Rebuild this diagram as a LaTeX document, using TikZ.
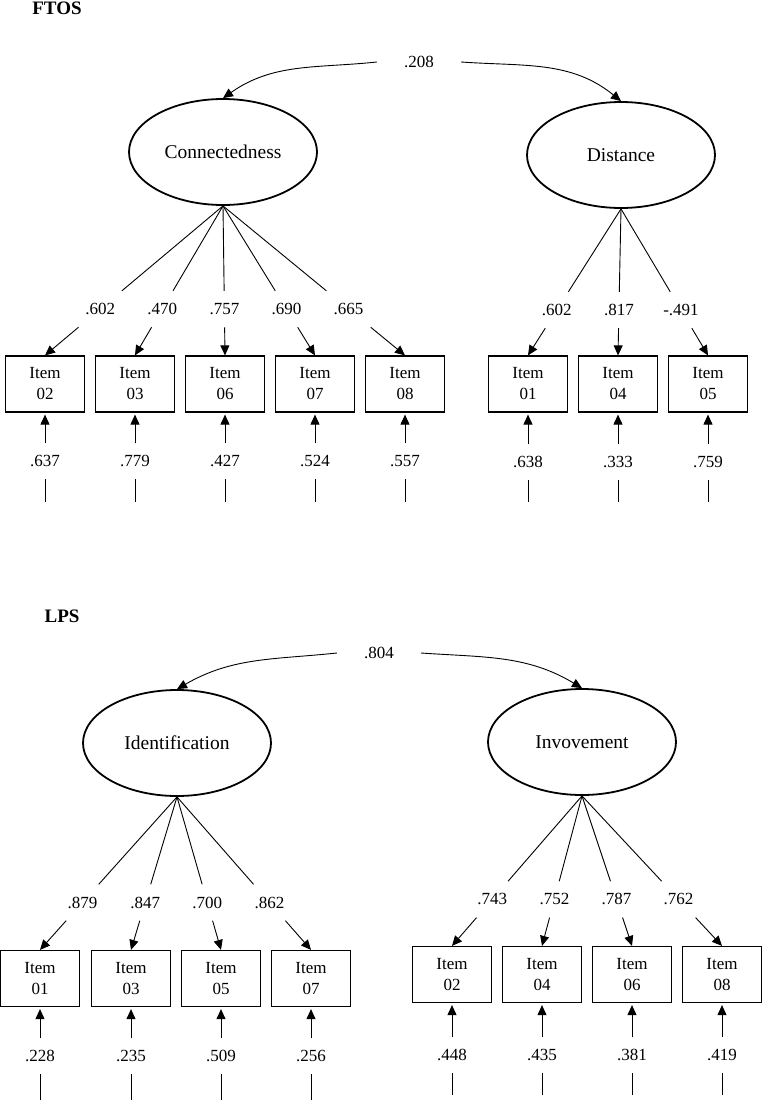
\documentclass[tikz,border=0pt]{standalone}
\usepackage{fontspec}
\setmainfont{Liberation Serif}
\usetikzlibrary{shapes.geometric, arrows.meta, calc}

\tikzset{
  latent/.style={ellipse, draw, line width=1.8pt, minimum width=188pt, minimum height=106pt,
    inner sep=0pt, font=\fontsize{19.5}{23}\selectfont},
  itembox/.style={rectangle, draw, line width=1.2pt, minimum width=79pt, minimum height=56pt,
    inner sep=0pt, align=center, font=\fontsize{17}{21}\selectfont},
  loading/.style={minimum width=50pt, minimum height=36pt, inner sep=0pt, font=\fontsize{17}{20}\selectfont},
  residual/.style={minimum height=35pt, inner sep=0pt, font=\fontsize{17}{20}\selectfont},
  covlabel/.style={inner xsep=27pt, inner ysep=0pt, font=\fontsize{17}{20}\selectfont},
  heading/.style={font=\fontsize{19}{22}\selectfont\bfseries},
  link/.style={line width=0.9pt},
  arrow/.style={link, -{Triangle[length=10pt, width=9pt]}},
}

\begin{document}
\begin{tikzpicture}[x=1pt, y=1pt]
  \useasboundingbox (0, 0) rectangle (762, -1103);

  % FTOS
  \node[heading] (ftos) at (57, -8) {FTOS};
  \node[latent] (con) at (223, -152) {Connectedness};
  \node[latent] (dis) at (621, -155) {Distance};
  \node[covlabel] (c208) at (419, -62) {.208};
  \draw[arrow] (c208.west) to[out=186, in=35] (con.north);
  \draw[arrow] (c208.east) to[out=-4, in=141] (dis.north);

  \foreach [count=\n] \id/\x/\lam/\err in {02/45/.602/.637, 03/135/.470/.779, 06/225/.757/.427, 07/315/.690/.524, 08/405/.665/.557} {
    \node[itembox] (ci\n) at (\x, -384) {Item\\\id};
    \node[loading] (cl\n) at ($(con.south)!0.69!(ci\n.north)$) {\lam};
    \draw[link] (con.south) -- (cl\n);
    \draw[arrow] (cl\n) -- (ci\n.north);
    \node[residual] (cr\n) at (\x, -461) {\err};
    \coordinate (ce\n) at (\x, -502);
    \draw[link] (ce\n) -- (cr\n);
    \draw[arrow, shorten >=2pt] (cr\n) -- (ci\n.south);
  }

  \foreach [count=\n] \id/\x/\lam/\err in {01/528/.602/.638, 04/618/.817/.333, 05/708/-.491/.759} {
    \node[itembox] (di\n) at (\x, -384) {Item\\\id};
    \node[loading] (dl\n) at ($(dis.south)!0.69!(di\n.north)$) {\lam};
    \draw[link] (dis.south) -- (dl\n);
    \draw[arrow] (dl\n) -- (di\n.north);
    \node[residual] (dr\n) at (\x, -462) {\err};
    \coordinate (de\n) at (\x, -502);
    \draw[link] (de\n) -- (dr\n);
    \draw[arrow, shorten >=2pt] (dr\n) -- (di\n.south);
  }

  % LPS
  \node[heading] (lps) at (62, -616) {LPS};
  \node[latent] (ide) at (177, -743) {Identification};
  \node[latent] (inv) at (582, -742) {Invovement};
  \node[covlabel] (c804) at (379, -653) {.804};
  \draw[arrow] (c804.west) to[out=186, in=30] (ide.north);
  \draw[arrow] (c804.east) to[out=-4, in=149] (inv.north);

  \foreach [count=\n] \id/\x/\lam/\err in {01/40/.879/.228, 03/131/.847/.235, 05/221/.700/.509, 07/311/.862/.256} {
    \node[itembox] (ii\n) at (\x, -978.5) {Item\\\id};
    \node[loading] (il\n) at ($(ide.south)!0.69!(ii\n.north)$) {\lam};
    \draw[link] (ide.south) -- (il\n);
    \draw[arrow] (il\n) -- (ii\n.north);
    \node[residual] (ir\n) at (\x, -1056) {\err};
    \coordinate (ie\n) at (\x, -1100);
    \draw[link] (ie\n) -- (ir\n);
    \draw[arrow, shorten >=2pt] (ir\n) -- (ii\n.south);
  }

  \foreach [count=\n] \id/\x/\lam/\err in {02/452/.743/.448, 04/542/.752/.435, 06/632/.787/.381, 08/722/.762/.419} {
    \node[itembox] (vi\n) at (\x, -974.5) {Item\\\id};
    \node[loading] (vl\n) at ($(inv.south)!0.69!(vi\n.north)$) {\lam};
    \draw[link] (inv.south) -- (vl\n);
    \draw[arrow] (vl\n) -- (vi\n.north);
    \node[residual] (vr\n) at (\x, -1055) {\err};
    \coordinate (ve\n) at (\x, -1095);
    \draw[link] (ve\n) -- (vr\n);
    \draw[arrow, shorten >=2pt] (vr\n) -- (vi\n.south);
  }
\end{tikzpicture}
\end{document}
